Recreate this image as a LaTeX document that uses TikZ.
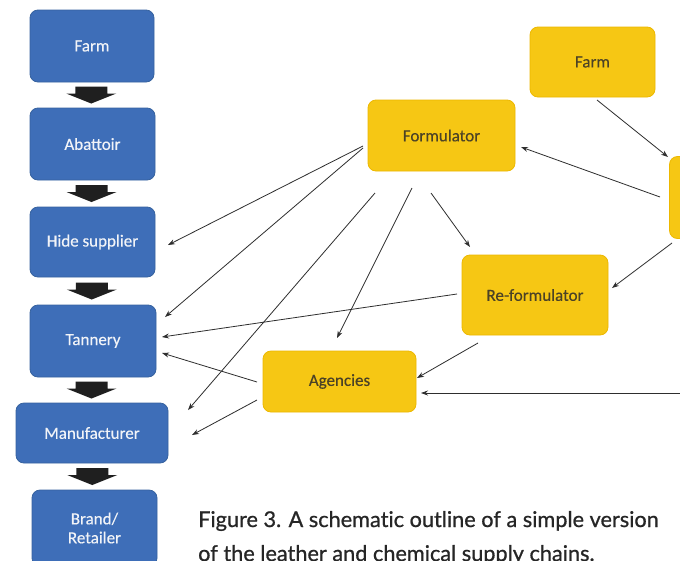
\documentclass[tikz,border=0pt]{standalone}
\usepackage{fontspec}
\setmainfont{Carlito}[FakeBold=0.3]
\newfontfamily\capfont{Lato}[FakeBold=0.8,Ligatures=NoCommon]
\usetikzlibrary{arrows.meta,calc}
\definecolor{bfill}{HTML}{3E6EB8}
\definecolor{bdraw}{HTML}{36629F}
\definecolor{yfill}{HTML}{F6C714}
\definecolor{ydraw}{HTML}{EDB800}
\definecolor{ytext}{HTML}{4B4226}
\definecolor{btext}{HTML}{F2F4F8}
\definecolor{lcol}{HTML}{2E2E2E}
\tikzset{
  bluebox/.style={draw=bdraw, line width=0.8pt, fill=bfill, rounded corners=8pt, text=btext, font=\fontsize{17}{19}\selectfont, align=center, inner sep=0pt},
  yellowbox/.style={draw=ydraw, line width=0.8pt, fill=yfill, rounded corners=8pt, text=ytext, font=\fontsize{17}{19}\selectfont, align=center, inner sep=0pt},
  conn/.style={draw=lcol, line width=0.8pt, -{Stealth[length=7pt,width=5pt]}},
  blockarr/.style={fill=black!88},
  captext/.style={anchor=base west, inner sep=0pt, text=black!85, font=\capfont\fontsize{21.7}{25}\selectfont}
}
\newcommand{\blockarrow}[2]{%
  \fill[blockarr] ($(#1.south)!0.5!(#2.north)+(-1,-8.5)$) ++(-16,0) -- ++(32,0) -- ++(0,7) -- ++(9,0) -- ++(-25,10) -- ++(-25,-10) -- ++(9,0) -- cycle;}
\begin{document}
\begin{tikzpicture}[x=1pt,y=-1pt]
\useasboundingbox (0,0) rectangle (680,560);
\clip (0,0) rectangle (680,560);
\fill[white] (0,0) rectangle (680,560);
% blue chain
\node[bluebox, minimum width=124pt, minimum height=72pt] (bfarm) at (92,46) {Farm};
\node[bluebox, minimum width=125pt, minimum height=72pt] (babat) at (92.5,144) {Abattoir};
\node[bluebox, minimum width=125pt, minimum height=70pt] (bhide) at (92.5,242) {Hide supplier};
\node[bluebox, minimum width=126pt, minimum height=72pt] (btan) at (93,341) {Tannery};
\node[bluebox, minimum width=152pt, minimum height=60pt] (bman) at (92,433) {Manufacturer};
\node[bluebox, minimum width=125pt, minimum height=76pt] (bbrand) at (94.5,528) {Brand/\\Retailer};
\blockarrow{bfarm}{babat}
\blockarrow{babat}{bhide}
\blockarrow{bhide}{btan}
\blockarrow{btan}{bman}
\blockarrow{bman}{bbrand}
% yellow chain
\node[yellowbox, minimum width=125pt, minimum height=70pt] (yfarm) at (592.5,62) {Farm};
\node[yellowbox, minimum width=147pt, minimum height=71pt] (yform) at (441.5,135.5) {Formulator};
\node[yellowbox, minimum width=125pt, minimum height=82pt] (yright) at (732,197.5) {};
\node[yellowbox, minimum width=146pt, minimum height=80pt] (yreform) at (535,295) {Re-formulator};
\node[yellowbox, minimum width=153pt, minimum height=61pt] (yagen) at (339.5,381.5) {Agencies};
% connector end points
\coordinate (f1s) at (363,146); \coordinate (f1e) at (168,245);
\coordinate (f2s) at (363,148); \coordinate (f2e) at (165,317);
\coordinate (f3s) at (375,193); \coordinate (f3e) at (188,410);
\coordinate (f4s) at (412,188); \coordinate (f4e) at (337,338);
\coordinate (f5s) at (431,193); \coordinate (f5e) at (470,247);
\coordinate (r1s) at (457,294); \coordinate (r1e) at (162,337);
\coordinate (r2s) at (478,343); \coordinate (r2e) at (417,378);
\coordinate (a1s) at (257,382); \coordinate (a1e) at (162,353);
\coordinate (a2s) at (257,400); \coordinate (a2e) at (192,435);
\coordinate (e1s) at (700,393); \coordinate (e1e) at (421,393);
\coordinate (p1s) at (597,100); \coordinate (p1e) at (668,157);
\coordinate (p2s) at (660,197); \coordinate (p2e) at (521,147);
\coordinate (p3s) at (672,243); \coordinate (p3e) at (612,288);
\foreach \c in {f1,f2,f3,f4,f5,r1,r2,a1,a2,e1,p1,p2,p3}
  \draw[conn] (\c s) -- (\c e);
% caption
\node[captext] (cap1) at (198,527) {Figure 3. A schematic outline of a simple version};
\node[captext] (cap2) at (198,561) {of the leather and chemical supply chains.};
\end{tikzpicture}
\end{document}
